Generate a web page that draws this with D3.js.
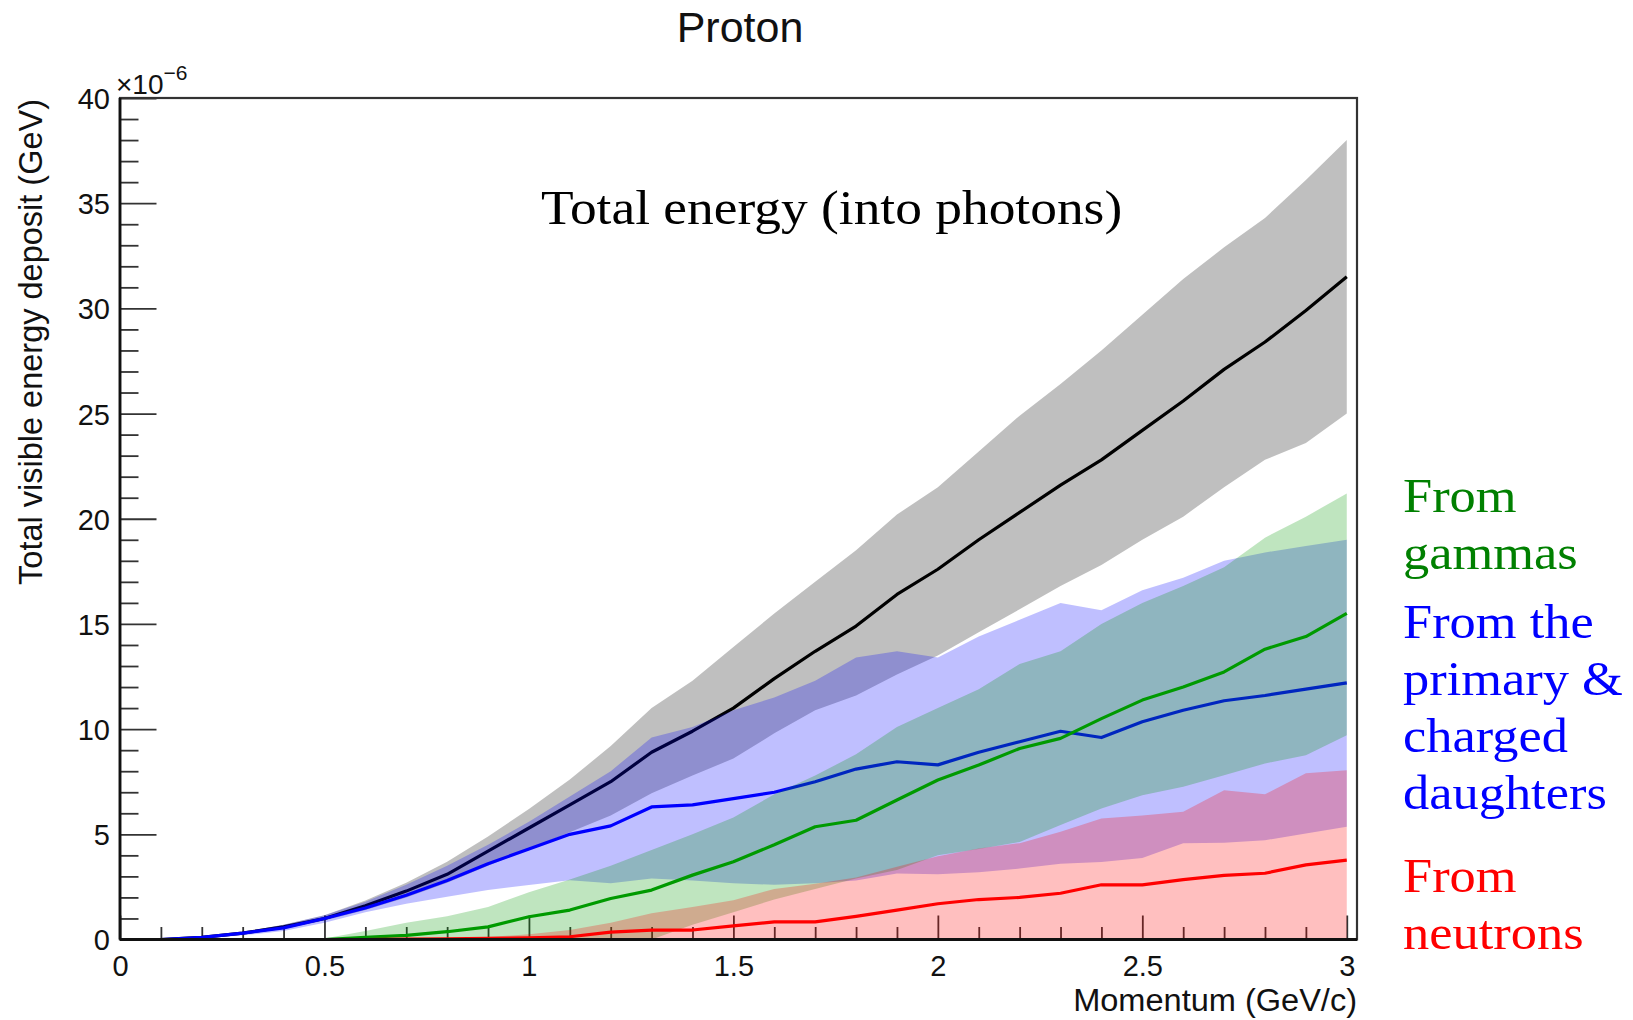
<!DOCTYPE html>
<html>
<head>
<meta charset="utf-8">
<script src="https://cdn.jsdelivr.net/npm/d3@7"></script>
<style>
  html, body { margin: 0; padding: 0; background: #ffffff; }
  svg { display: block; }
</style>
</head>
<body>
<svg id="chart" width="1633" height="1020"></svg>
<script>
// ---------------- data (values in units of 1e-6 GeV) ----------------
const momentum = [0.1,0.2,0.3,0.4,0.5,0.6,0.7,0.8,0.9,1.0,1.1,1.2,1.3,1.4,1.5,1.6,1.7,1.8,1.9,2.0,2.1,2.2,2.3,2.4,2.5,2.6,2.7,2.8,2.9,3.0];

const totalMean = [0.0,0.1,0.3,0.6,1.0,1.6,2.3,3.1,4.2,5.3,6.4,7.5,8.9,9.9,11.0,12.4,13.7,14.9,16.4,17.6,19.0,20.3,21.6,22.8,24.2,25.6,27.1,28.4,29.9,31.5];
const totalUp   = [0.0,0.15,0.35,0.7,1.15,1.85,2.7,3.7,4.9,6.2,7.6,9.2,11.0,12.3,13.9,15.5,17.0,18.5,20.2,21.5,23.2,24.9,26.4,28.0,29.7,31.4,32.9,34.3,36.1,38.0];
const totalLow  = [0.0,0.05,0.25,0.5,0.9,1.4,2.0,2.7,3.5,4.3,5.1,5.9,6.95,7.8,8.6,9.8,10.9,11.6,12.6,13.5,14.6,15.7,16.8,17.8,19.0,20.1,21.5,22.8,23.6,25.0];

const primaryMean = [0.0,0.1,0.3,0.55,1.0,1.5,2.1,2.8,3.6,4.3,5.0,5.4,6.3,6.4,6.7,7.0,7.5,8.1,8.45,8.3,8.9,9.4,9.9,9.6,10.35,10.9,11.35,11.6,11.9,12.2];
const primaryUp   = [0.0,0.15,0.35,0.7,1.15,1.8,2.6,3.5,4.5,5.6,6.8,8.0,9.6,10.1,10.9,11.5,12.3,13.4,13.7,13.4,14.4,15.2,16.0,15.65,16.6,17.2,18.0,18.4,18.7,19.0];
const primaryLow  = [0.0,0.05,0.2,0.4,0.8,1.3,1.7,2.03,2.35,2.59,2.82,2.67,2.9,2.8,2.67,2.6,2.67,2.8,3.14,3.1,3.2,3.37,3.6,3.68,3.87,4.57,4.6,4.72,5.04,5.36];

const gammaMean = [0.0,0.0,0.0,0.0,0.0,0.1,0.2,0.37,0.6,1.08,1.4,1.95,2.35,3.06,3.7,4.5,5.36,5.67,6.63,7.58,8.29,9.08,9.56,10.5,11.38,12.0,12.72,13.8,14.4,15.5];
const gammaUp   = [0.0,0.0,0.0,0.0,0.05,0.4,0.8,1.1,1.55,2.25,2.85,3.5,4.25,5.0,5.8,6.9,7.8,8.8,10.1,11.0,11.9,13.1,13.7,15.0,16.0,16.8,17.7,19.1,20.1,21.2];
const gammaLow  = [0.0,0.0,0.0,0.0,0.0,0.0,0.0,0.0,0.0,0.0,0.0,0.0,0.0,0.7,1.3,1.9,2.4,2.9,3.3,4.0,4.3,4.64,5.44,6.23,6.86,7.26,7.81,8.37,8.76,9.71];

const neutronMean = [null,null,null,null,0.0,0.0,0.02,0.03,0.05,0.08,0.13,0.35,0.45,0.45,0.65,0.84,0.84,1.1,1.4,1.7,1.9,2.0,2.2,2.6,2.6,2.85,3.05,3.15,3.55,3.77];
const neutronUp   = [null,null,null,null,0.0,0.0,0.02,0.05,0.12,0.25,0.45,0.8,1.25,1.55,1.87,2.4,2.65,2.95,3.46,3.96,4.33,4.58,5.12,5.75,5.9,6.07,7.1,6.9,7.9,8.05];
const neutronLow  = [null,null,null,null,0.0,0.0,0.0,0.0,0.0,0.0,0.0,0.0,0.0,0.0,0.0,0.0,0.0,0.0,0.0,0.0,0.0,0.0,0.0,0.0,0.0,0.0,0.0,0.0,0.0,0.0];

const xMajorTicks = [0,0.5,1,1.5,2,2.5,3];
const xTickLabels = ["0","0.5","1","1.5","2","2.5","3"];
const yMajorTicks = [0,5,10,15,20,25,30,35,40];
const yTickLabels = ["0","5","10","15","20","25","30","35","40"];

const chartTitle = "Proton";
const xTitle = "Momentum (GeV/c)";
const yTitle = "Total visible energy deposit (GeV)";
const annotation = "Total energy (into photons)";
const legendGroups = [
  { lines: ["From", "gammas"], color: "#008000" },
  { lines: ["From the", "primary &", "charged", "daughters"], color: "#0000ff" },
  { lines: ["From", "neutrons"], color: "#ff0000" }
];

// ---------------- layout ----------------
const svg = d3.select("#chart");
const L = 120, R = 1357, T = 98, B = 939.5;
const x = d3.scaleLinear().domain([0, 3.025]).range([L, R]);
const y = d3.scaleLinear().domain([0, 40]).range([B, T]);

const sans = "'Liberation Sans', Arial, Helvetica, sans-serif";
const serif = "'Liberation Serif', 'Times New Roman', serif";

// ---- ticks (drawn first; fills lie over them) ----
const yMinor = d3.range(0, 40.001, 1).filter(v => v % 5 !== 0);
const xMinor = d3.range(0, 3.001, 0.1).map(v => +v.toFixed(1)).filter(v => Math.abs(v * 2 - Math.round(v * 2)) > 1e-6);

function styleAxis(g) {
  g.select(".domain").remove();
  g.selectAll(".tick line").attr("stroke", "#333").attr("stroke-width", 1.8);
  g.selectAll("text").attr("font-family", sans).attr("font-size", 29).attr("fill", "#111");
}

svg.append("g").attr("transform", `translate(${L},0)`)
  .call(d3.axisLeft(y).tickValues(yMinor).tickSize(-18.5).tickFormat(""))
  .call(styleAxis);
svg.append("g").attr("transform", `translate(${L},0)`)
  .call(d3.axisLeft(y).tickValues(yMajorTicks).tickSize(-36.5).tickPadding(10)
        .tickFormat((d, i) => yTickLabels[i]))
  .call(styleAxis)
  .call(g => g.selectAll("text").attr("dy", "0.36em"));

svg.append("g").attr("transform", `translate(0,${B})`)
  .call(d3.axisBottom(x).tickValues(xMinor).tickSize(-12.5).tickFormat(""))
  .call(styleAxis);
svg.append("g").attr("transform", `translate(0,${B})`)
  .call(d3.axisBottom(x).tickValues(xMajorTicks).tickSize(-24).tickPadding(15.5)
        .tickFormat((d, i) => xTickLabels[i]))
  .call(styleAxis);

// ---- bands and lines ----
function series(mean, up, low) {
  return momentum.map((m, i) => ({ m, mean: mean[i], up: up[i], low: low[i] }))
                 .filter(d => d.mean !== null);
}
const area = d3.area().x(d => x(d.m)).y0(d => y(d.low)).y1(d => y(d.up));
const line = d3.line().x(d => x(d.m)).y(d => y(d.mean));

const layers = [
  { data: series(totalMean, totalUp, totalLow), fill: "rgba(0,0,0,0.25)", stroke: "#000000" },
  { data: series(primaryMean, primaryUp, primaryLow), fill: "rgba(0,0,255,0.25)", stroke: "#0000ff" },
  { data: series(gammaMean, gammaUp, gammaLow), fill: "rgba(0,150,0,0.25)", stroke: "#009a00" },
  { data: series(neutronMean, neutronUp, neutronLow), fill: "rgba(255,0,0,0.25)", stroke: "#ff0000" }
];
layers.forEach(Ly => {
  svg.append("path").datum(Ly.data).attr("d", area).attr("fill", Ly.fill).attr("stroke", "none");
  svg.append("path").datum(Ly.data).attr("d", line).attr("fill", "none")
    .attr("stroke", Ly.stroke).attr("stroke-width", 3.2).attr("stroke-linejoin", "round");
});

// ---- frame and axis lines ----
svg.append("rect").attr("x", L).attr("y", T).attr("width", R - L).attr("height", B - T)
  .attr("fill", "none").attr("stroke", "#333").attr("stroke-width", 2.2);
svg.append("line").attr("x1", L).attr("x2", L).attr("y1", T).attr("y2", B)
  .attr("stroke", "#111").attr("stroke-width", 2.8);
svg.append("line").attr("x1", L).attr("x2", R).attr("y1", B).attr("y2", B)
  .attr("stroke", "#111").attr("stroke-width", 2.8);

// ---- texts ----
svg.append("text").attr("x", 740).attr("y", 42).attr("text-anchor", "middle")
  .attr("font-family", sans).attr("font-size", 43).attr("fill", "#111").text(chartTitle);

svg.append("g").attr("transform", `translate(${R},1010.5) scale(1.05,1)`)
  .append("text").attr("text-anchor", "end")
  .attr("font-family", sans).attr("font-size", 31).attr("fill", "#111").text(xTitle);

svg.append("text").attr("transform", `translate(42,${T + 1}) rotate(-90)`).attr("text-anchor", "end")
  .attr("font-family", sans).attr("font-size", 32.5).attr("fill", "#111").text(yTitle);

const expo = svg.append("text").attr("x", 116).attr("y", 94)
  .attr("font-family", sans).attr("font-size", 28).attr("fill", "#111");
expo.append("tspan").text("\u00d710");
expo.append("tspan").attr("dy", -14).attr("font-size", 21).text("\u22126");

svg.append("g").attr("transform", "translate(541,224) scale(1.09,1)")
  .append("text").attr("font-family", serif).attr("font-size", 49).attr("fill", "#000").text(annotation);

const groupTops = [512, 638, 891.5];
const lineStep = 57;
legendGroups.forEach((grp, gi) => {
  grp.lines.forEach((t, li) => {
    svg.append("g").attr("transform", `translate(1403,${groupTops[gi] + li * lineStep}) scale(1.07,1)`)
      .append("text").attr("font-family", serif).attr("font-size", 49)
      .attr("fill", grp.color).text(t);
  });
});
</script>
</body>
</html>
